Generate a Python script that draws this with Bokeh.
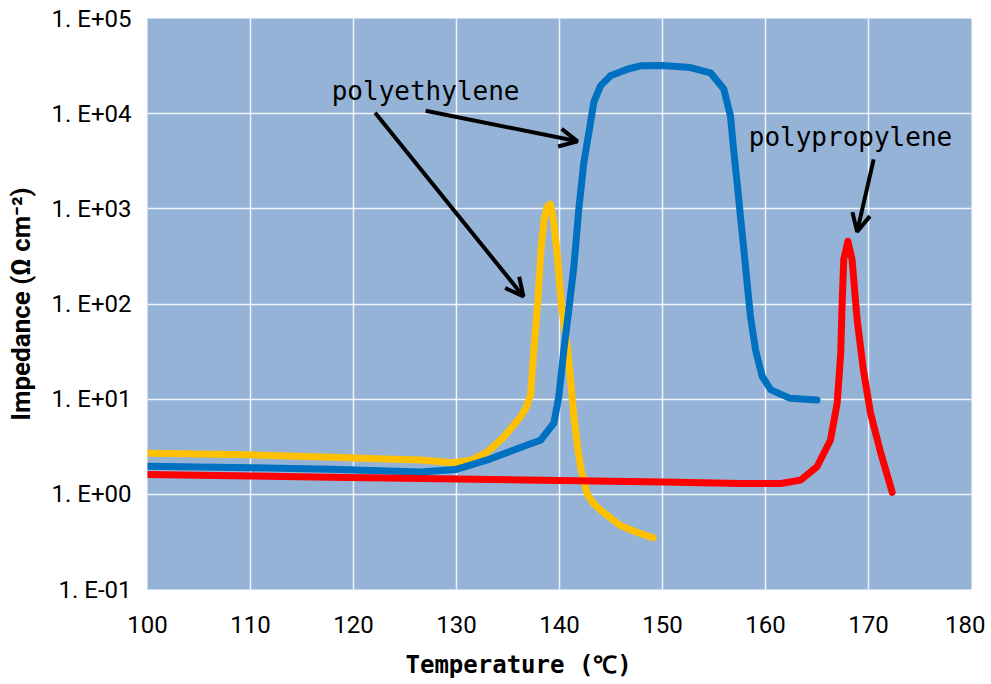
from bokeh.plotting import figure
from bokeh.models import FixedTicker, CustomJSTickFormatter, Arrow, OpenHead, Range1d, Title
from bokeh.core.properties import value
from bokeh.embed import file_html
from bokeh.resources import INLINE

# ---- data ----
x_ticks = [100, 110, 120, 130, 140, 150, 160, 170, 180]
y_ticks = [0.1, 1, 10, 100, 1000, 10000, 100000]
y_tick_labels = ["1. E-01", "1. E+00", "1. E+01", "1. E+02", "1. E+03", "1. E+04", "1. E+05"]

# polyethylene separator (yellow)
pe_a_temp = [100, 110, 117.8, 123, 126.5, 129.7, 131.5, 133, 134.6, 136.2, 136.8, 137.2, 137.5,
             137.9, 138.2, 138.5, 138.8, 139.1, 139.4, 139.8, 140.2, 140.8, 141.1, 141.4, 141.8,
             142.1, 142.7, 143.3, 144.0, 145.9, 147.5, 149.1]
pe_a_imp = [2.7, 2.6, 2.45, 2.35, 2.3, 2.15, 2.3, 2.8, 4.0, 6.5, 8.3, 11.2, 32,
            110, 370, 760, 1050, 1120, 790, 316, 93, 33, 15, 6.5, 2.9,
            1.8, 1.0, 0.8, 0.68, 0.47, 0.4, 0.35]

# polyethylene separator (blue)
pe_b_temp = [100, 110, 117.8, 126.5, 129.9, 133, 135.5, 137.2, 138.16, 139.45, 139.93, 140.42,
             140.9, 141.4, 141.87, 142.36, 142.85, 143.33, 143.98, 144.95, 146.57, 147.86, 150,
             152.7, 154.66, 155.95, 156.6, 156.9, 157.25, 157.57, 157.9, 158.22, 158.54, 159.03,
             159.68, 160.5, 161.45, 162.4, 165.0]
pe_b_imp = [1.97, 1.9, 1.83, 1.72, 1.82, 2.3, 2.9, 3.4, 3.7, 5.6, 10.6, 33,
            87, 250, 980, 3060, 6300, 13200, 19600, 25000, 29300, 31800, 32000,
            30500, 26900, 18200, 9500, 4200, 1860, 830, 370, 165, 74, 33,
            17.4, 12.6, 11.3, 10.2, 9.8]

# polypropylene separator (red)
pp_temp = [100, 110, 117.8, 130, 140, 150, 157.6, 161.5, 163.4, 165.0, 166.3, 166.96, 167.3,
           167.44, 167.6, 168.0, 168.4, 168.9, 169.5, 170.2, 171.2, 172.3]
pp_imp = [1.62, 1.56, 1.51, 1.45, 1.4, 1.35, 1.3, 1.3, 1.41, 1.95, 3.7, 9.1, 30,
          102, 295, 457, 295, 68, 20.4, 7.1, 2.7, 1.05]

# ---- figure ----
p = figure(width=985, height=684, x_range=Range1d(100, 180), y_range=Range1d(0.1, 1e5),
           y_axis_type="log", output_backend="svg", toolbar_location=None,
           background_fill_color="#95B3D7", border_fill_color="white",
           min_border_left=147, min_border_right=14, min_border_top=18, min_border_bottom=95)
p.outline_line_color = None

p.xaxis.ticker = FixedTicker(ticks=x_ticks)
p.yaxis.ticker = FixedTicker(ticks=y_ticks)
p.yaxis.formatter = CustomJSTickFormatter(args=dict(tvals=y_ticks, tlabels=y_tick_labels), code="""
    for (let i = 0; i < tvals.length; i++) {
        if (Math.abs(Math.log10(tick) - Math.log10(tvals[i])) < 1e-6) return tlabels[i];
    }
    return "";
""")

for ax in (p.xaxis, p.yaxis):
    ax.axis_line_color = None
    ax.major_tick_line_color = None
    ax.minor_tick_line_color = None
    ax.major_label_text_font = "Roboto"
    ax.major_label_text_font_size = "24px"
    ax.major_label_text_color = "black"

p.xaxis.major_label_standoff = 20
p.yaxis.major_label_standoff = 10

p.yaxis.axis_label = "Impedance (Ω cm⁻²)"
p.yaxis.axis_label_text_font = "Roboto"
p.yaxis.axis_label_text_font_style = "bold"
p.yaxis.axis_label_text_font_size = "26px"
p.yaxis.axis_label_text_color = "black"
p.yaxis.axis_label_standoff = 12

# spacer + x-axis title below the tick labels (off-centre as in the original)
p.add_layout(Title(text=" ", text_font_size="1px", standoff=8), "below")
xlabel = Title(text="Temperature (℃)", align="left", offset=258, standoff=4,
               text_font="DejaVu Sans Mono", text_font_style="bold", text_font_size="24px",
               text_color="black")
p.add_layout(xlabel, "below")

p.xgrid.grid_line_color = "white"
p.ygrid.grid_line_color = "white"
p.xgrid.grid_line_width = 1.5
p.ygrid.grid_line_width = 1.5
p.xgrid.grid_line_alpha = 0.85
p.ygrid.grid_line_alpha = 0.85

# ---- curves ----
p.line(pe_a_temp, pe_a_imp, line_color="#FFC000", line_width=7, line_join="round", line_cap="round")
p.line(pe_b_temp, pe_b_imp, line_color="#0070C0", line_width=7, line_join="round", line_cap="round")
p.line(pp_temp, pp_imp, line_color="#FF0000", line_width=7, line_join="round", line_cap="round")

# ---- annotations ----
p.text(x=[127.0], y=[10 ** 4.24], text=["polyethylene"], text_align="center",
       text_baseline="middle", text_font=value("DejaVu Sans Mono"), text_font_size="26px",
       text_color="black")
p.text(x=[168.25], y=[10 ** 3.75], text=["polypropylene"], text_align="center",
       text_baseline="middle", text_font=value("DejaVu Sans Mono"), text_font_size="26px",
       text_color="black")

arrows = [
    (122.1, 10 ** 4.01, 136.5, 10 ** 2.08),
    (127.0, 10 ** 4.03, 141.75, 10 ** 3.71),
    (170.5, 10 ** 3.52, 168.9, 10 ** 2.76),
]
for xs, ys, xe, ye in arrows:
    p.add_layout(Arrow(end=OpenHead(size=18, line_width=4, line_color="black"),
                       x_start=xs, y_start=ys, x_end=xe, y_end=ye,
                       line_width=4, line_color="black"))

open("out.html", "w").write(file_html(p, INLINE))
